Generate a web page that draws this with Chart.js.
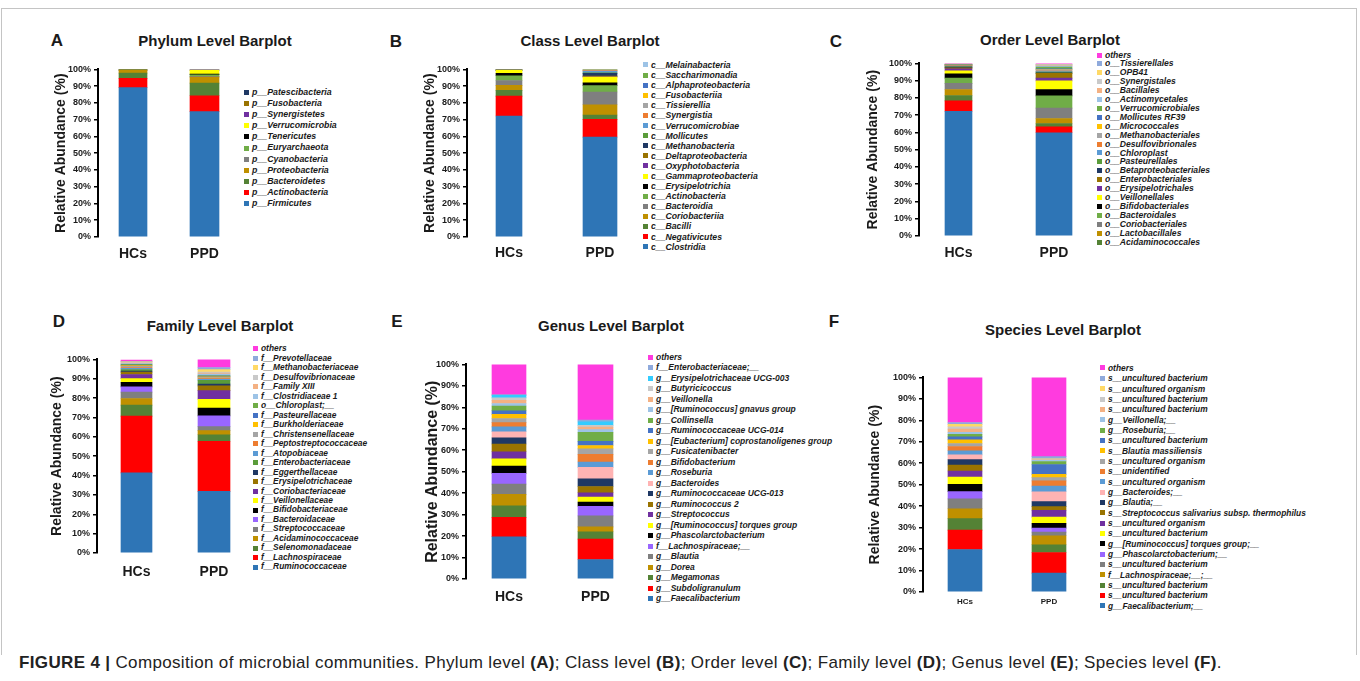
<!DOCTYPE html>
<html>
<head>
<meta charset="utf-8">
<script src="https://cdn.jsdelivr.net/npm/chart.js@4.4.0/dist/chart.umd.min.js"></script>
<style>
  body { margin: 0; width: 1360px; height: 681px; background: #fff; position: relative; overflow: hidden;
         font-family: "Liberation Sans", Arial, sans-serif; color: #1a1a1a; }
  .frame { position: absolute; left: 1px; top: 8px; width: 1354px; height: 646px;
           border: 1px solid #c4c4c4; border-bottom: none; }
  .txt { position: absolute; line-height: 1; white-space: nowrap; font-weight: bold; transform: translate(-50%, -50%); }
  canvas { position: absolute; }
  .leg { position: absolute; margin: 0; padding: 0; list-style: none; font-style: italic; font-weight: bold; color: #1a1a1a; }
  .leg li { display: flex; align-items: center; white-space: nowrap; }
  .leg span { display: inline-block; width: 5px; height: 5px; margin-right: 3px; flex: none; }
  .cap { position: absolute; left: 19px; top: 662px; transform: translateY(-50%); font-size: 17px; letter-spacing: 0.35px;
         line-height: 1; white-space: nowrap; color: #222; }
</style>
</head>
<body>
<div class="frame"></div>
<div class="cap"><b>FIGURE 4 |</b> Composition of microbial communities. Phylum level <b>(A)</b>; Class level <b>(B)</b>; Order level <b>(C)</b>; Family level <b>(D)</b>; Genus level <b>(E)</b>; Species level <b>(F)</b>.</div>
<script>
// ---- data (bottom of the stack first) ----
const samples = ['HCs', 'PPD'];

const phylumNames = ['p__Firmicutes', 'p__Actinobacteria', 'p__Bacteroidetes', 'p__Proteobacteria', 'p__Cyanobacteria',
  'p__Euryarchaeota', 'p__Tenericutes', 'p__Verrucomicrobia', 'p__Synergistetes', 'p__Fusobacteria', 'p__Patescibacteria'];
const phylumHCs = [89.1, 5.5, 3.2, 1.6, 0.1, 0.2, 0.1, 0.1, 0.03, 0.05, 0.02];
const phylumPPD = [74.8, 9.5, 7.5, 3.6, 0.4, 1.0, 0.4, 2.3, 0.1, 0.2, 0.1];

const classNames = ['c__Clostridia', 'c__Negativicutes', 'c__Bacilli', 'c__Coriobacteriia', 'c__Bacteroidia', 'c__Actinobacteria',
  'c__Erysipelotrichia', 'c__Gammaproteobacteria', 'c__Oxyphotobacteria', 'c__Deltaproteobacteria', 'c__Methanobacteria',
  'c__Mollicutes', 'c__Verrucomicrobiae', 'c__Synergistia', 'c__Tissierellia', 'c__Fusobacteriia', 'c__Alphaproteobacteria',
  'c__Saccharimonadia', 'c__Melainabacteria'];
const classHCs = [72.2, 11.9, 3.4, 3.0, 2.9, 2.8, 1.4, 1.8, 0.05, 0.1, 0.1, 0.1, 0.05, 0.02, 0.03, 0.03, 0.02, 0.01, 0.01];
const classPPD = [59.6, 10.6, 2.6, 6.1, 7.6, 3.8, 1.7, 3.4, 0.2, 0.4, 1.6, 0.3, 1.0, 0.2, 0.3, 0.3, 0.1, 0.1, 0.1];

const orderNames = ['o__Clostridiales', 'o__Selenomonadales', 'o__Acidaminococcales', 'o__Lactobacillales', 'o__Coriobacteriales',
  'o__Bacteroidales', 'o__Bifidobacteriales', 'o__Veillonellales', 'o__Erysipelotrichales', 'o__Enterobacteriales',
  'o__Betaproteobacteriales', 'o__Pasteurellales', 'o__Chloroplast', 'o__Desulfovibrionales', 'o__Methanobacteriales',
  'o__Micrococcales', 'o__Mollicutes RF39', 'o__Verrucomicrobiales', 'o__Actinomycetales', 'o__Bacillales',
  'o__Synergistales', 'o__OPB41', 'o__Tissierellales', 'others'];
const orderHCs = [72.3, 6.0, 3.1, 3.5, 3.5, 3.1, 2.5, 1.7, 1.2, 0.6, 0.3, 0.4, 0.3, 0.2, 0.2, 0.1, 0.2, 0.1, 0.1, 0.1, 0.05, 0.05, 0.05, 0.35];
const orderPPD = [59.8, 3.4, 2.0, 2.9, 6.0, 7.1, 3.7, 5.0, 1.6, 2.7, 0.3, 0.5, 0.3, 0.3, 0.8, 0.2, 0.3, 1.0, 0.5, 0.3, 0.3, 0.2, 0.3, 0.5];

const familyNames = ['f__Ruminococcaceae', 'f__Lachnospiraceae', 'f__Selenomonadaceae', 'f__Acidaminococcaceae',
  'f__Streptococcaceae', 'f__Bacteroidaceae', 'f__Bifidobacteriaceae', 'f__Veillonellaceae', 'f__Coriobacteriaceae',
  'f__Erysipelotrichaceae', 'f__Eggerthellaceae', 'f__Enterobacteriaceae', 'f__Atopobiaceae', 'f__Peptostreptococcaceae',
  'f__Christensenellaceae', 'f__Burkholderiaceae', 'f__Pasteurellaceae', 'o__Chloroplast;__', 'f__Clostridiaceae 1',
  'f__Family XIII', 'f__Desulfovibrionaceae', 'f__Methanobacteriaceae', 'f__Prevotellaceae', 'others'];
const familyHCs = [41.4, 29.3, 5.7, 3.4, 3.3, 2.7, 2.4, 1.9, 2.1, 1.2, 0.6, 0.8, 0.6, 0.4, 0.6, 0.4, 0.3, 0.3, 0.4, 0.3, 0.3, 0.3, 0.3, 0.8];
const familyPPD = [31.8, 25.9, 3.4, 2.1, 2.1, 5.5, 4.0, 4.6, 4.5, 2.4, 0.9, 2.0, 0.5, 0.4, 0.5, 0.4, 0.4, 0.3, 0.7, 0.5, 0.6, 1.2, 1.1, 4.2];

const genusNames = ['g__Faecalibacterium', 'g__Subdoligranulum', 'g__Megamonas', 'g__Dorea', 'g__Blautia',
  'f__Lachnospiraceae;__', 'g__Phascolarctobacterium', 'g__[Ruminococcus] torques group', 'g__Streptococcus',
  'g__Ruminococcus 2', 'g__Ruminococcaceae UCG-013', 'g__Bacteroides', 'g__Roseburia', 'g__Bifidobacterium',
  'g__Fusicatenibacter', 'g__[Eubacterium] coprostanoligenes group', 'g__Ruminococcaceae UCG-014', 'g__Collinsella',
  'g__[Ruminococcus] gnavus group', 'g__Veillonella', 'g__Butyricicoccus', 'g__Erysipelotrichaceae UCG-003',
  'f__Enterobacteriaceae;__', 'others'];
const genusHCs = [19.7, 9.0, 5.4, 5.3, 4.8, 5.0, 3.4, 3.4, 3.3, 3.6, 2.9, 2.8, 2.3, 2.0, 1.9, 1.9, 1.7, 2.2, 1.2, 1.4, 1.2, 1.2, 0.3, 14.1];
const genusPPD = [9.1, 9.5, 3.4, 2.3, 5.1, 4.5, 2.0, 2.3, 2.0, 2.9, 3.6, 5.3, 2.5, 3.6, 2.5, 1.6, 1.9, 4.3, 1.2, 1.2, 0.8, 1.6, 0.8, 26.0];

const speciesNames = ['g__Faecalibacterium;__', 's__uncultured bacterium', 's__uncultured bacterium', 'f__Lachnospiraceae;__;__',
  's__uncultured bacterium', 'g__Phascolarctobacterium;__', 'g__[Ruminococcus] torques group;__', 's__uncultured bacterium',
  's__uncultured organism', 's__Streptococcus salivarius subsp. thermophilus', 'g__Blautia;__', 'g__Bacteroides;__',
  's__uncultured organism', 's__unidentified', 's__uncultured organism', 's__Blautia massiliensis', 's__uncultured bacterium',
  'g__Roseburia;__', 'g__Veillonella;__', 's__uncultured bacterium', 's__uncultured bacterium', 's__uncultured organism',
  's__uncultured bacterium', 'others'];
const speciesHCs = [19.8, 9.0, 5.4, 4.6, 4.6, 3.4, 3.4, 3.4, 2.8, 2.8, 2.5, 2.2, 1.9, 2.0, 1.4, 1.7, 1.4, 1.2, 0.9, 1.5, 1.1, 1.1, 0.9, 21.0];
const speciesPPD = [8.8, 9.6, 3.6, 4.2, 1.7, 1.9, 2.2, 2.9, 3.2, 1.7, 2.3, 4.6, 2.6, 2.5, 1.5, 1.5, 4.6, 1.4, 0.5, 0.3, 0.3, 0.2, 1.0, 36.9];

const yTicks = [0, 10, 20, 30, 40, 50, 60, 70, 80, 90, 100];

// ---- colours ----
const basePalette = ['#2E75B6', '#FF0000', '#548235', '#BF9000', '#7F7F7F', '#9966FF', '#000000', '#FFFF00',
  '#7030A0', '#997300', '#1F3864', '#FFB3B3', '#5B9BD5', '#ED7D31', '#A5A5A5', '#FFC000', '#4472C4', '#70AD47',
  '#9DC3E6', '#F4B183', '#C9C9C9', '#33CCFF', '#8FAADC', '#FF3BDF'];
function palette(over) {
  const p = basePalette.slice();
  Object.keys(over).forEach(k => { p[k] = over[k]; });
  return p;
}
const taxaPal = palette({5: '#70AD47', 11: '#5A9C3A', 21: '#FFD966'});
const famPal = palette({11: '#5A9C3A', 21: '#FFD966'});
const genusPal = palette({});
const speciesPal = palette({21: '#FFD966'});

// ---- html legend built from the chart's own legend items ----
const htmlLegend = {
  id: 'htmlLegend',
  afterUpdate(chart, args, opts) {
    const ul = document.getElementById(opts.containerID);
    ul.innerHTML = '';
    const items = chart.options.plugins.legend.labels.generateLabels(chart).reverse();
    items.forEach(item => {
      if (!chart.data.datasets[item.datasetIndex].inLegend) return;
      const li = document.createElement('li');
      const box = document.createElement('span');
      box.style.background = item.fillStyle;
      li.appendChild(box);
      li.appendChild(document.createTextNode(item.text));
      ul.appendChild(li);
    });
  }
};

function addText(cls, text, x, y, size) {
  const d = document.createElement('div');
  d.className = cls;
  d.textContent = text;
  d.style.left = x + 'px';
  d.style.top = y + 'px';
  d.style.fontSize = size + 'px';
  document.body.appendChild(d);
}

function makePanel(p) {
  addText('txt', p.letter, p.letterX, p.letterY, 17);
  addText('txt', p.title, p.titleX, p.titleY, 15);

  const padTop = 8;
  const left = Math.round(p.yTitleX - p.yTitleSize * 0.6);
  const yw = p.axisX - left;
  const xPad = p.xLabelY - p.chartBottom - p.xFont * 0.6;
  const xh = Math.ceil(xPad + p.xFont * 1.2 + 4);
  const w = yw + (p.chartRight - p.axisX), h = padTop + (p.chartBottom - p.chartTop) + xh;
  const cv = document.createElement('canvas');
  cv.style.left = left + 'px';
  cv.style.top = (p.chartTop - padTop) + 'px';
  cv.style.width = w + 'px';
  cv.style.height = h + 'px';
  cv.width = w; cv.height = h;
  document.body.appendChild(cv);

  const ul = document.createElement('ul');
  ul.className = 'leg';
  ul.id = 'leg' + p.letter;
  ul.style.left = p.legX + 'px';
  ul.style.top = (p.legY - p.legStep / 2) + 'px';
  ul.style.fontSize = p.legSize + 'px';
  ul.style.lineHeight = p.legStep + 'px';
  document.body.appendChild(ul);

  // sample positions on a linear x axis: HCs at 0, PPD at 1
  const unit = p.barX[1] - p.barX[0];
  const xMin = -(p.barX[0] - p.axisX) / unit;
  const xMax = 1 + (p.chartRight - p.barX[1]) / unit;
  const hidden = p.skip || [];

  const datasets = [];
  [p.hcs, p.ppd].forEach((vals, s) => {
    p.names.forEach((n, i) => {
      datasets.push({
        label: n,
        data: [{ x: s, y: vals[i] }],
        backgroundColor: p.colors[i],
        borderWidth: 0,
        barThickness: p.barW[s],
        inLegend: s === 0 && !hidden.includes(i)
      });
    });
  });

  new Chart(cv, {
    type: 'bar',
    data: { datasets: datasets },
    plugins: [htmlLegend],
    options: {
      responsive: false,
      animation: false,
      devicePixelRatio: 1,
      layout: { padding: { top: padTop, left: 0, right: 0, bottom: 0 } },
      plugins: {
        legend: { display: false },
        tooltip: { enabled: false },
        htmlLegend: { containerID: ul.id }
      },
      scales: {
        x: {
          type: 'linear',
          stacked: true,
          min: xMin,
          max: xMax,
          offset: false,
          afterBuildTicks: s => { s.ticks = samples.map((t, i) => ({ value: i })); },
          grid: { display: false, drawTicks: false },
          border: { display: false },
          ticks: { callback: v => samples[v], font: { size: p.xFont, weight: 'bold', family: 'Liberation Sans' },
                   color: '#1a1a1a', padding: xPad, maxRotation: 0 },
          afterFit: s => { s.height = xh; }
        },
        y: {
          stacked: true,
          min: 0,
          max: 100,
          afterBuildTicks: s => { s.ticks = yTicks.map(v => ({ value: v })); },
          ticks: { callback: v => v + '%', font: { size: p.tickSize, weight: 'bold', family: 'Liberation Sans' }, color: '#1a1a1a', padding: 3 },
          grid: { drawOnChartArea: false, drawTicks: true, tickLength: 4, color: '#000', lineWidth: 1.5 },
          border: { display: true, color: '#000', width: 2 },
          title: { display: true, text: 'Relative Abundance (%)', color: '#1a1a1a', padding: 0,
                   font: { size: p.yTitleSize, weight: 'bold', family: 'Liberation Sans' } },
          afterFit: s => { s.width = yw; }
        }
      }
    }
  });
}

const panels = [
  { letter: 'A', letterX: 57, letterY: 40, title: 'Phylum Level Barplot', titleX: 215, titleY: 40,
    names: phylumNames, hcs: phylumHCs, ppd: phylumPPD, colors: taxaPal,
    yTitleX: 61, yTitleSize: 14, axisX: 98, chartTop: 69, chartBottom: 237, chartRight: 240,
    barX: [133, 204.5], barW: [28, 29],
    xLabelY: 254, xFont: 14, tickSize: 9, legX: 244, legY: 92.7, legStep: 11.06, legSize: 8.8 },
  { letter: 'B', letterX: 396, letterY: 41, title: 'Class Level Barplot', titleX: 590, titleY: 40,
    names: classNames, hcs: classHCs, ppd: classPPD, colors: taxaPal,
    yTitleX: 430, yTitleSize: 14, axisX: 467, chartTop: 69, chartBottom: 237, chartRight: 638,
    barX: [509, 600], barW: [26, 34],
    xLabelY: 253, xFont: 14, tickSize: 9, legX: 643, legY: 65, legStep: 10.1, legSize: 8.7 },
  { letter: 'C', letterX: 836, letterY: 41, title: 'Order Level Barplot', titleX: 1050, titleY: 39,
    names: orderNames, hcs: orderHCs, ppd: orderPPD, colors: taxaPal, skip: [0, 1],
    yTitleX: 873, yTitleSize: 14, axisX: 919, chartTop: 63, chartBottom: 236, chartRight: 1092,
    barX: [958.5, 1054], barW: [27, 36],
    xLabelY: 253, xFont: 14, tickSize: 9, legX: 1097, legY: 55, legStep: 8.9, legSize: 8.6 },
  { letter: 'D', letterX: 59, letterY: 321, title: 'Family Level Barplot', titleX: 220, titleY: 325,
    names: familyNames, hcs: familyHCs, ppd: familyPPD, colors: famPal,
    yTitleX: 57, yTitleSize: 14, axisX: 97, chartTop: 359, chartBottom: 553, chartRight: 248,
    barX: [136.5, 214], barW: [31, 32],
    xLabelY: 572, xFont: 14, tickSize: 9, legX: 253, legY: 349, legStep: 9.48, legSize: 8.4 },
  { letter: 'E', letterX: 397, letterY: 321, title: 'Genus Level Barplot', titleX: 611, titleY: 325,
    names: genusNames, hcs: genusHCs, ppd: genusPPD, colors: genusPal,
    yTitleX: 433, yTitleSize: 16, axisX: 466, chartTop: 364, chartBottom: 579, chartRight: 642,
    barX: [509, 595.5], barW: [34, 35],
    xLabelY: 597, xFont: 14, tickSize: 9, legX: 648, legY: 357, legStep: 10.5, legSize: 8.5 },
  { letter: 'F', letterX: 834, letterY: 321, title: 'Species Level Barplot', titleX: 1063, titleY: 329,
    names: speciesNames, hcs: speciesHCs, ppd: speciesPPD, colors: speciesPal,
    yTitleX: 875, yTitleSize: 14, axisX: 923, chartTop: 377, chartBottom: 592, chartRight: 1094,
    barX: [965, 1049], barW: [34, 34],
    xLabelY: 602, xFont: 8, tickSize: 9, legX: 1100, legY: 368, legStep: 10.35, legSize: 8.4 }
];

panels.forEach(makePanel);
</script>
</body>
</html>
